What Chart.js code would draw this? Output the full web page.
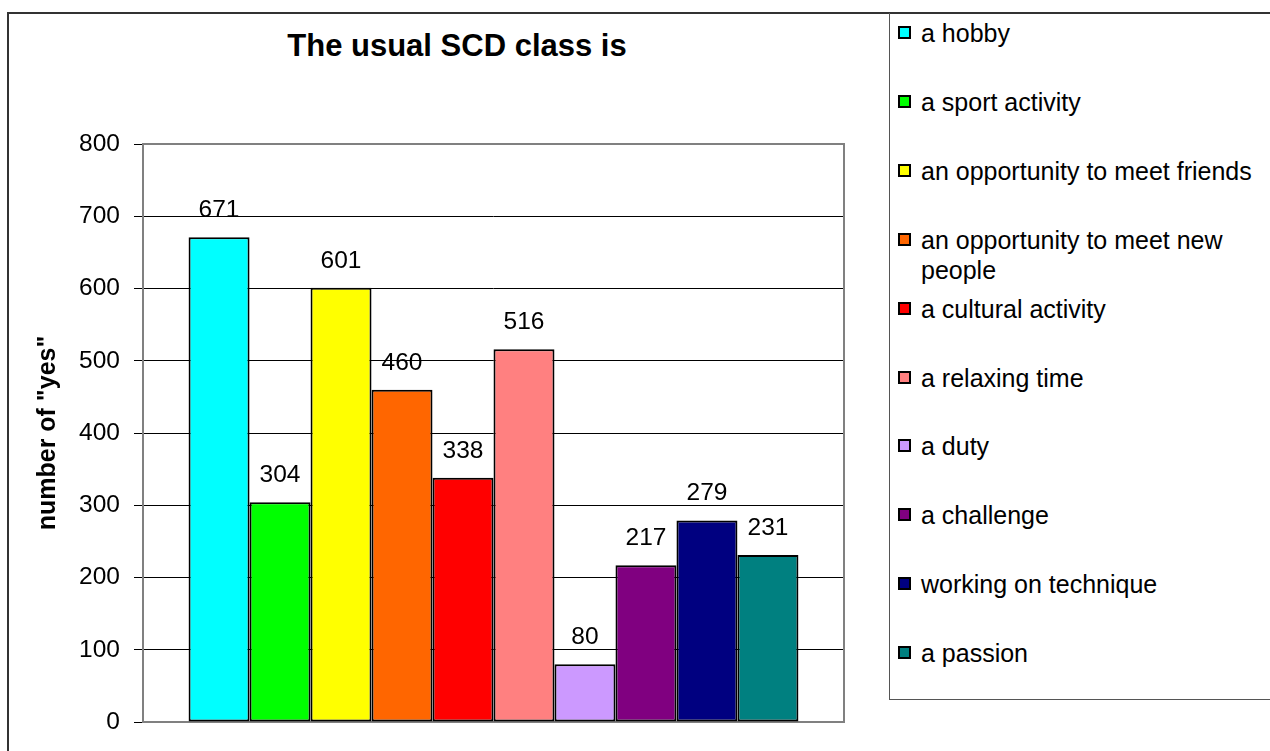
<!DOCTYPE html>
<html lang="en">
<head>
    <meta charset="UTF-8">
    <title>The usual SCD class is</title>
    <script src="https://cdn.jsdelivr.net/npm/chart.js"></script>
    <style>
        body {
            margin: 0;
            background: #fff;
            font-family: "Liberation Sans", Arial, sans-serif;
        }
        .page {
            position: relative;
            width: 1270px;
            height: 751px;
            overflow: hidden;
        }
        .frame {
            position: absolute;
            left: 7px;
            top: 12px;
            width: 1400px;
            height: 900px;
            border-left: 2px solid #333;
            border-top: 2px solid #333;
        }
        .legend-box {
            position: absolute;
            left: 889px;
            top: 13px;
            width: 500px;
            height: 686px;
            border-left: 1px solid #555;
            border-bottom: 1px solid #555;
        }
        .chart-title {
            position: absolute;
            left: 0;
            top: 28px;
            width: 914px;
            text-align: center;
            font-weight: bold;
            font-size: 31px;
            line-height: 36px;
        }
        .legend-item {
            position: absolute;
            left: 898px;
            width: 360px;
            font-size: 25px;
            line-height: 30px;
            color: #000;
        }
        .legend-item .swatch {
            position: absolute;
            left: 0;
            top: 8px;
            width: 9px;
            height: 9px;
            border: 2px solid #000;
        }
        .legend-item .text {
            margin-left: 23px;
            width: 345px;
        }
        canvas {
            position: absolute;
            left: 0;
            top: 0;
        }
    </style>
</head>
<body>
<div class="page">
    <div class="frame"></div>
    <div class="legend-box"></div>
    <div class="chart-title" id="chartTitle"></div>
    <div id="legend"></div>
    <canvas id="scdChart" width="1270" height="751"></canvas>
</div>

<script>
    const chartTitle = 'The usual SCD class is';
    const axisTitle = 'number of "yes"';
    const categories = [
        'a hobby',
        'a sport activity',
        'an opportunity to meet friends',
        'an opportunity to meet new people',
        'a cultural activity',
        'a relaxing time',
        'a duty',
        'a challenge',
        'working on technique',
        'a passion'
    ];
    const yesCounts = [671, 304, 601, 460, 338, 516, 80, 217, 279, 231];
    const barColors = ['#00FFFF', '#00FF00', '#FFFF00', '#FF6600', '#FF0000',
                       '#FF8080', '#CC99FF', '#800080', '#000080', '#008080'];
    const yMin = 0;
    const yMax = 800;
    const yStep = 100;

    const fontFamily = '"Liberation Sans", Arial, sans-serif';

    document.getElementById('chartTitle').textContent = chartTitle;

    // legend on the right, like the Excel one
    const legendEl = document.getElementById('legend');
    categories.forEach((name, i) => {
        const item = document.createElement('div');
        item.className = 'legend-item';
        item.style.top = (18 + i * 68.9) + 'px';
        item.innerHTML = '<span class="swatch"></span><div class="text"></div>';
        item.querySelector('.swatch').style.background = barColors[i];
        item.querySelector('.text').textContent = name;
        legendEl.appendChild(item);
    });

    // grey box round the plot area
    const plotBorder = {
        id: 'plotBorder',
        beforeDatasetsDraw(chart) {
            const {ctx, chartArea: a} = chart;
            ctx.save();
            ctx.strokeStyle = '#808080';
            ctx.lineWidth = 2;
            ctx.strokeRect(a.left, a.top, a.right - a.left, a.bottom - a.top);
            ctx.restore();
        }
    };

    // value written above each bar
    const barValues = {
        id: 'barValues',
        afterDatasetsDraw(chart) {
            const ctx = chart.ctx;
            ctx.save();
            ctx.font = '24.5px ' + fontFamily;
            ctx.fillStyle = '#000';
            ctx.textAlign = 'center';
            ctx.textBaseline = 'alphabetic';
            chart.data.datasets.forEach((ds, i) => {
                const bar = chart.getDatasetMeta(i).data[0];
                ctx.fillText(ds.data[0], bar.x, bar.y - 20);
            });
            ctx.restore();
        }
    };

    const ctx = document.getElementById('scdChart').getContext('2d');
    new Chart(ctx, {
        type: 'bar',
        data: {
            labels: [''],
            datasets: categories.map((name, i) => ({
                label: name,
                data: [yesCounts[i]],
                backgroundColor: barColors[i],
                borderColor: '#000',
                borderWidth: 2,
                borderSkipped: false,
                categoryPercentage: 0.87,
                barPercentage: 1
            }))
        },
        options: {
            responsive: false,
            animation: false,
            layout: {
                padding: {left: 33, top: 144, right: 426, bottom: 29}
            },
            plugins: {
                legend: {display: false},
                title: {display: false},
                tooltip: {enabled: false}
            },
            scales: {
                x: {display: false},
                y: {
                    min: yMin,
                    max: yMax,
                    ticks: {
                        stepSize: yStep,
                        color: '#000',
                        padding: 14,
                        font: {family: fontFamily, size: 24.5}
                    },
                    grid: {
                        color: c => (c.tick.value === yMin || c.tick.value === yMax) ? '#808080' : '#000',
                        tickColor: '#000',
                        tickLength: 9,
                        lineWidth: 1
                    },
                    border: {display: false},
                    title: {
                        display: true,
                        text: axisTitle,
                        color: '#000',
                        padding: 0,
                        font: {family: fontFamily, size: 25, weight: 'bold'}
                    },
                    afterFit(scale) {
                        scale.width = 110;
                    }
                }
            }
        },
        plugins: [plotBorder, barValues]
    });
</script>
</body>
</html>
